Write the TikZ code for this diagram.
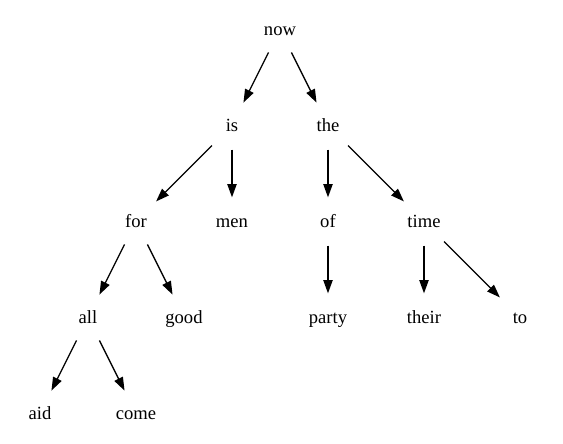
\documentclass[tikz,border=0pt]{standalone}
\usepackage{fontspec}
\setmainfont{Liberation Serif}
\usepackage{tikz}
\usetikzlibrary{arrows.meta,shapes.geometric}
\tikzset{
  word/.style={ellipse, draw=none, inner sep=0pt, minimum width=54pt, minimum height=36pt,
    text height=12pt, text depth=3pt, font=\fontsize{14}{16}\selectfont},
  flow/.style={draw=black, line width=1pt, -{Triangle[length=10pt,width=7pt]}}
}
\begin{document}
\begin{tikzpicture}[x=0.5in, y=0.5in]
    \useasboundingbox (-0.833,-0.615) rectangle (10.896,8.615);
    \node[word] (now)   at (5,8) {now};
    \node[word] (is)    at (4,6) {is};
    \node[word] (the)   at (6,6) {the};
    \node[word] (for)   at (2,4) {for};
    \node[word] (men)   at (4,4) {men};
    \node[word] (of)    at (6,4) {of};
    \node[word] (time)  at (8,4) {time};
    \node[word] (all)   at (1,2) {all};
    \node[word] (good)  at (3,2) {good};
    \node[word] (party) at (6,2) {party};
    \node[word] (their) at (8,2) {their};
    \node[word] (to)    at (10,2) {to};
    \node[word] (aid)   at (0,0) {aid};
    \node[word] (come)  at (2,0) {come};

    \draw[flow] (now) -- (is);
    \draw[flow] (now) -- (the);
    \draw[flow] (is) -- (for);
    \draw[flow] (is) -- (men);
    \draw[flow] (the) -- (of);
    \draw[flow] (the) -- (time);
    \draw[flow] (for) -- (all);
    \draw[flow] (for) -- (good);
    \draw[flow] (of) -- (party);
    \draw[flow] (time) -- (their);
    \draw[flow] (time) -- (to);
    \draw[flow] (all) -- (aid);
    \draw[flow] (all) -- (come);
  \end{tikzpicture}
\end{document}
